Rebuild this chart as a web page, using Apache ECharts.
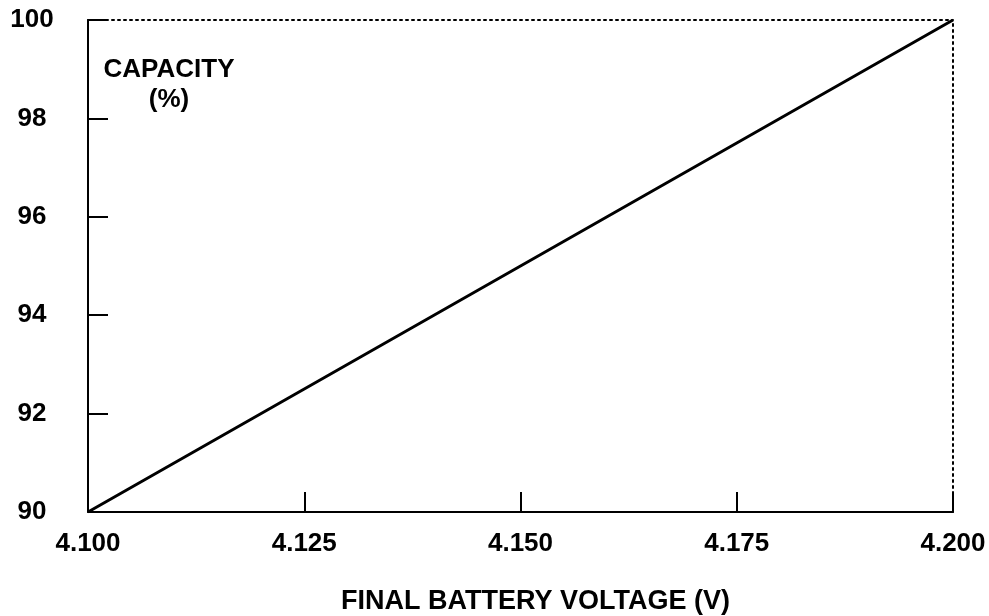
<!DOCTYPE html>
<html>
<head>
<meta charset="utf-8">
<script src="https://cdn.jsdelivr.net/npm/echarts@6/dist/echarts.min.js"></script>
<style>
html,body{margin:0;padding:0;background:#fff;}
#chart{width:989px;height:616px;}
</style>
</head>
<body>
<div id="chart"></div>
<script>
// Data
var voltage = [4.100, 4.125, 4.150, 4.175, 4.200];
var capacity = [90, 92.5, 95, 97.5, 100];
var xTitle = 'FINAL BATTERY VOLTAGE (V)';
var yTitle = 'CAPACITY\n(%)';

var FONT = '"Liberation Sans", Arial, Helvetica, sans-serif';
var chart = echarts.init(document.getElementById('chart'), null, {renderer: 'canvas'});

var seriesData = voltage.map(function (v, i) { return [v, capacity[i]]; });

chart.setOption({
  animation: false,
  backgroundColor: '#ffffff',
  grid: {left: 88, right: 36, top: 20, bottom: 104, containLabel: false, outerBoundsMode: 'none'},
  xAxis: [{
    type: 'value', min: 4.1, max: 4.2, interval: 0.025, position: 'bottom',
    name: xTitle, nameLocation: 'middle', nameGap: 76,
    nameTextStyle: {fontFamily: FONT, fontWeight: 'bold', fontSize: 27, color: '#000', padding: [0, 0, 0, 30]},
    axisLine: {show: true, lineStyle: {color: '#000', width: 2}},
    axisTick: {show: true, inside: true, length: 20, lineStyle: {color: '#000', width: 2}},
    axisLabel: {fontFamily: FONT, fontWeight: 'bold', fontSize: 26, color: '#000', margin: 19,
      formatter: function (v) { return v.toFixed(3); }},
    splitLine: {show: false}
  }, {
    type: 'value', min: 4.1, max: 4.2, position: 'top',
    axisLine: {show: true, lineStyle: {color: '#000', width: 2, type: [2, 4]}},
    axisTick: {show: false}, axisLabel: {show: false}, splitLine: {show: false}
  }],
  yAxis: [{
    type: 'value', min: 90, max: 100, interval: 2, position: 'left',
    axisLine: {show: true, lineStyle: {color: '#000', width: 2}},
    axisTick: {show: true, inside: true, length: 20, lineStyle: {color: '#000', width: 2}},
    axisLabel: {fontFamily: FONT, fontWeight: 'bold', fontSize: 26, color: '#000', margin: 56, align: 'center'},
    splitLine: {show: false}
  }, {
    type: 'value', min: 90, max: 100, position: 'right',
    axisLine: {show: true, lineStyle: {color: '#000', width: 2, type: [2, 4]}},
    axisTick: {show: false}, axisLabel: {show: false}, splitLine: {show: false}
  }],
  graphic: [{
    type: 'text', z: 100,
    style: {
      x: 169, y: 55, text: yTitle, align: 'center', verticalAlign: 'top',
      font: 'bold 26px ' + FONT, fill: '#000', lineHeight: 30
    }
  }],
  series: [{
    type: 'line', xAxisIndex: 0, yAxisIndex: 0,
    data: seriesData, showSymbol: false, symbol: 'none',
    lineStyle: {color: '#000', width: 3}, z: 5
  }]
});
</script>
</body>
</html>
